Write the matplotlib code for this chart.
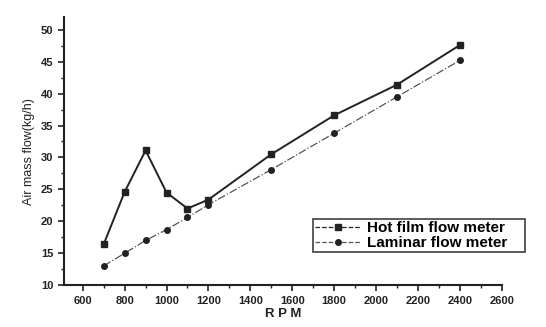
import matplotlib
matplotlib.use("Agg")
import matplotlib.pyplot as plt
from matplotlib.ticker import MultipleLocator

rpm = [700, 800, 900, 1000, 1100, 1200, 1500, 1800, 2100, 2400]
hot_film = [16.4, 24.6, 31.1, 24.5, 22.0, 23.4, 30.5, 36.6, 41.4, 47.6]
laminar = [13.0, 15.0, 17.0, 18.7, 20.6, 22.6, 28.1, 33.8, 39.5, 45.2]

plt.rcParams['font.family'] = ['Liberation Sans', 'DejaVu Sans']

fig = plt.figure(figsize=(5.46, 3.27), dpi=100)
ax = fig.add_axes([0.117, 0.128, 0.802, 0.82])

ax.plot(rpm, hot_film, color='#222222', lw=1.4, marker='s', ms=4.5,
        label='Hot film flow meter')
ax.plot(rpm, laminar, color='#555555', lw=0.9, ls='-.', marker='o', ms=4,
        mfc='#222222', mec='#222222', label='Laminar flow meter')

ax.set_xlim(510, 2600)
ax.set_ylim(10, 52)
ax.xaxis.set_major_locator(MultipleLocator(200))
ax.xaxis.set_minor_locator(MultipleLocator(100))
ax.yaxis.set_major_locator(MultipleLocator(5))
ax.yaxis.set_minor_locator(MultipleLocator(2.5))

for s in ['top', 'right']:
    ax.spines[s].set_visible(False)
for s in ['left', 'bottom']:
    ax.spines[s].set_linewidth(1.5)
    ax.spines[s].set_color('#222222')

ax.tick_params(which='major', length=4, width=1.2, labelsize=8, colors='#222222')
ax.tick_params(which='minor', length=2, width=1.0, colors='#222222')
for lbl in ax.get_xticklabels() + ax.get_yticklabels():
    lbl.set_fontweight('bold')

ax.set_xlabel('R P M', fontsize=9.5, fontweight='bold', color='#222222', labelpad=2)
ax.set_ylabel('Air mass flow(kg/h)', fontsize=9, color='#222222', labelpad=4)

# legend box stretched wider than its text, sticking out past the x axis end
leg = ax.legend(loc='lower left', bbox_to_anchor=(0.568, 0.123, 0.486, 0.134),
                mode='expand', frameon=True, fancybox=False, edgecolor='#222222',
                prop={'weight': 'bold', 'size': 11}, handlelength=3.0,
                handletextpad=0.4, borderpad=0.15, labelspacing=0.05,
                borderaxespad=0.0)
leg.get_frame().set_linewidth(1.3)
for h in leg.get_lines():
    h.set_linestyle('--')
    h.set_linewidth(0.9)

fig.savefig('out.png', dpi=100)
